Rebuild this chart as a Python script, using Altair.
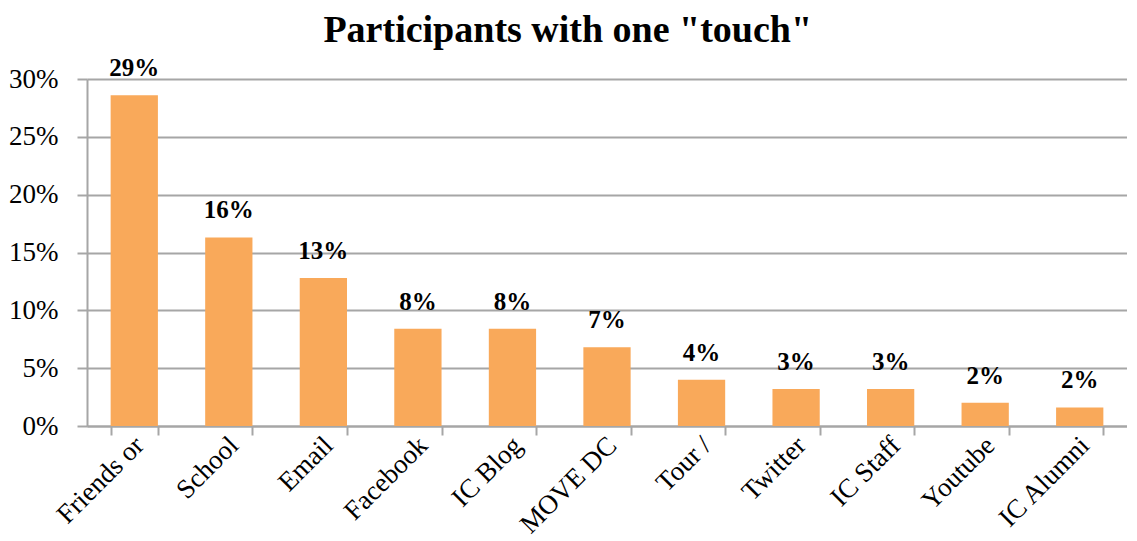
import altair as alt
import pandas as pd

categories = ["Friends or", "School", "Email", "Facebook", "IC Blog", "MOVE DC",
              "Tour /", "Twitter", "IC Staff", "Youtube", "IC Alumni"]
values = [0.286, 0.163, 0.128, 0.084, 0.084, 0.068, 0.040, 0.032, 0.032, 0.020, 0.016]
labels = ["29%", "16%", "13%", "8%", "8%", "7%", "4%", "3%", "3%", "2%", "2%"]

df = pd.DataFrame({"cat": categories, "val": values, "lab": labels})

FONT = "Liberation Serif"
GRID = "#a6a6a6"

x = alt.X("cat:N", sort=categories, title=None,
          scale=alt.Scale(paddingInner=0.5, paddingOuter=0.25),
          axis=alt.Axis(labelAngle=-45, labelAlign="right", labelBaseline="middle",
                        labelFontSize=27, labelFont=FONT, labelColor="black",
                        labelPadding=6, labelOffset=5, tickBand="extent", tickSize=9,
                        tickColor=GRID, tickWidth=2, domainColor=GRID, domainWidth=2,
                        grid=False))
y = alt.Y("val:Q", title=None,
          scale=alt.Scale(domain=[0, 0.30]),
          axis=alt.Axis(format=".0%", values=[0, 0.05, 0.10, 0.15, 0.20, 0.25, 0.30],
                        labelFontSize=27, labelFont=FONT, labelColor="black",
                        labelPadding=19, tickSize=10, tickColor=GRID, tickWidth=2,
                        domainColor=GRID, domainWidth=2,
                        gridColor=GRID, gridWidth=2))

bars = alt.Chart(df).mark_bar(color="#f9a95a").encode(x=x, y=y)
text = alt.Chart(df).mark_text(font=FONT, fontSize=25, fontWeight="bold",
                               baseline="bottom", dy=-14, color="black").encode(
    x=alt.X("cat:N", sort=categories), y="val:Q", text="lab:N")

chart = (bars + text).properties(
    width=1040, height=347,
    title=alt.TitleParams('Participants with one "touch"', font=FONT, fontSize=38,
                          fontWeight="bold", color="black", offset=6,
                          frame="bounds", anchor="middle"),
    padding={"left": 0, "right": 0, "top": 4, "bottom": 0},
).configure_view(stroke=None)

chart.save("out.html", embed_options={"renderer": "svg", "actions": False})
